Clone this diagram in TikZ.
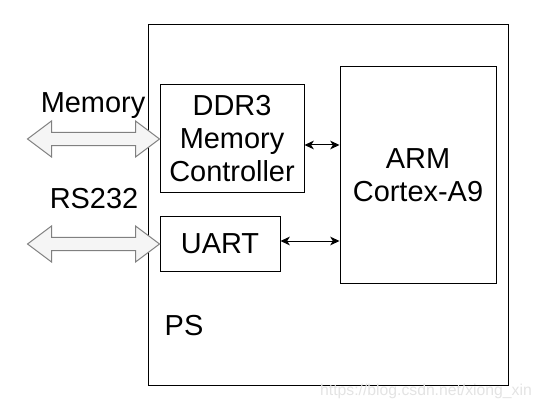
\documentclass[tikz,border=0pt]{standalone}
\usepackage{fontspec}
\setmainfont{Liberation Sans}
\usetikzlibrary{arrows.meta,calc}
\definecolor{busline}{HTML}{808080}
\definecolor{busfill}{HTML}{F5F5F5}
\tikzset{
	block/.style={draw, line width=0.75pt, align=center, inner sep=0pt},
	link/.style={<->, >={Stealth[length=7pt,width=6.5pt,inset=2pt]}, line width=0.75pt},
	bus/.style={draw=busline, fill=busfill, line width=0.75pt,
		to path={let \p1=(\tikztostart), \p2=(\tikztotarget) in
			-- (\x1+18pt,\y1+13.5pt) -- (\x1+18pt,\y1+4.9pt) -- (\x2-18pt,\y1+4.9pt) -- (\x2-18pt,\y1+13.5pt)
			-- (\x2,\y1) -- (\x2-18pt,\y1-13.5pt) -- (\x2-18pt,\y1-4.9pt) -- (\x1+18pt,\y1-4.9pt)
			-- (\x1+18pt,\y1-13.5pt) -- cycle}},
}
\begin{document}
\begin{tikzpicture}[x=0.75pt, y=-0.75pt, font=\fontsize{21.7}{24.75}\selectfont]
		\useasboundingbox (0,0) rectangle (541,409);
		\node[block, minimum width=270pt, minimum height=270pt] (ps) at (328,205) {};
		\node[anchor=base] (pslabel) at (184,335) {PS};
		\node[block, minimum width=117pt, minimum height=162pt] (arm) at (418,175) {ARM\\Cortex-A9};
		\node[block, minimum width=108pt, minimum height=81pt] (ddr) at (232,139) {DDR3\\Memory\\Controller};
		\node[block, minimum width=90pt, minimum height=40.5pt] (uart) at (220,244) {UART};
		\coordinate (ddrport) at ([yshift=-4.5pt]ddr.east);
		\draw[link] (ddrport) -- (ddrport -| arm.west);
		\coordinate (uartport) at ([yshift=2.25pt]uart.east);
		\draw[link] (uartport) -- (uartport -| arm.west);
		\coordinate (memext) at ([xshift=-99pt]ddr.west);
		\draw[bus] (memext) to (ddr.west);
		\coordinate (rsext) at ([xshift=-99pt]uart.west);
		\draw[bus] (rsext) to (uart.west);
		\node[anchor=base] (memlabel) at (93,113) {Memory};
		\node[anchor=base] (rslabel) at (94,209) {RS232};
		\node[anchor=base, text=gray!22, font=\fontsize{11.8}{14}\selectfont] (mark) at (426,395) {https://blog.csdn.net/xiong\_xin};
	\end{tikzpicture}
\end{document}
